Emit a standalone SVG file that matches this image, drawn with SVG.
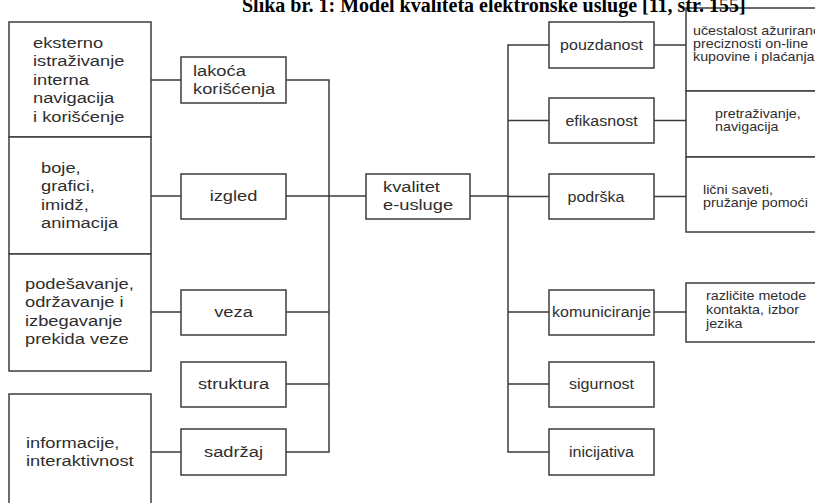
<svg xmlns="http://www.w3.org/2000/svg" width="815" height="503" viewBox="0 0 815 503">
<style>
.b{fill:#fff;stroke:#3c3c3c;stroke-width:1.5}
.c{fill:none;stroke:#3c3c3c;stroke-width:1.5}
text{font-family:"Liberation Sans",Arial,sans-serif;fill:#2e2e2e}
.tl{font-size:15.5px}
.tr{font-size:15px}
.tf{font-size:13px}
.m{text-anchor:middle}
.title{font-family:"Liberation Serif","Times New Roman",serif;font-weight:bold;font-size:20px;fill:#000}
</style>
<rect width="815" height="503" fill="#fff"/>
<g id="connectors">
<path class="c" d="M151,80H181M151,196H181M151,312H181M151,452H181"/>
<path class="c" d="M286,80H329V452H286M286,196H329M286,312H329M286,384H329"/>
<path class="c" d="M329,196H366M470,196H508"/>
<path class="c" d="M549,45H508V452H549M508,120.5H549M508,196.5H549M508,312H549M508,384H549"/>
<path class="c" d="M654,45H686M654,120.5H686M654,196.5H686M654,312H686"/>
</g>
<g id="ld1"><rect class="b" x="9" y="22" width="142" height="115"/>
<text class="tl" transform="translate(33,48) scale(1.18,1)"><tspan x="0">eksterno</tspan><tspan x="0" dy="18.5">istraživanje</tspan><tspan x="0" dy="18.5">interna</tspan><tspan x="0" dy="18.5">navigacija</tspan><tspan x="0" dy="18.5">i korišćenje</tspan></text></g>
<g id="ld2"><rect class="b" x="9" y="137" width="142" height="117"/>
<text class="tl" transform="translate(41,173) scale(1.18,1)"><tspan x="0">boje,</tspan><tspan x="0" dy="18.5">grafici,</tspan><tspan x="0" dy="18.5">imidž,</tspan><tspan x="0" dy="18.5">animacija</tspan></text></g>
<g id="ld3"><rect class="b" x="9" y="254" width="142" height="117"/>
<text class="tl" transform="translate(25,289) scale(1.18,1)"><tspan x="0">podešavanje,</tspan><tspan x="0" dy="18.5">održavanje i</tspan><tspan x="0" dy="18.5">izbegavanje</tspan><tspan x="0" dy="18.5">prekida veze</tspan></text></g>
<g id="ld4"><rect class="b" x="9" y="394" width="142" height="125"/>
<text class="tl" transform="translate(26,448) scale(1.18,1)"><tspan x="0">informacije,</tspan><tspan x="0" dy="18.5">interaktivnost</tspan></text></g>
<g id="lakoca"><rect class="b" x="181" y="57" width="105" height="46"/>
<text class="tl" transform="translate(193,76) scale(1.18,1)"><tspan x="0">lakoća</tspan><tspan x="0" dy="18.5">korišćenja</tspan></text></g>
<g id="izgled"><rect class="b" x="181" y="174" width="105" height="45"/>
<text class="tl m" transform="translate(233.5,201) scale(1.18,1)">izgled</text></g>
<g id="veza"><rect class="b" x="181" y="290" width="105" height="45"/>
<text class="tl m" transform="translate(233.5,317) scale(1.18,1)">veza</text></g>
<g id="struktura"><rect class="b" x="181" y="362" width="105" height="45"/>
<text class="tl m" transform="translate(233.5,389) scale(1.18,1)">struktura</text></g>
<g id="sadrzaj"><rect class="b" x="181" y="429" width="105" height="46"/>
<text class="tl m" transform="translate(233.5,457) scale(1.18,1)">sadržaj</text></g>
<g id="kvalitet"><rect class="b" x="366" y="174" width="104" height="45"/>
<text class="tl" transform="translate(383,191.5) scale(1.18,1)"><tspan x="0">kvalitet</tspan><tspan x="0" dy="18.5">e-usluge</tspan></text></g>
<g id="pouzdanost"><rect class="b" x="549" y="22" width="105" height="46"/>
<text class="tr m" transform="translate(601.5,50) scale(1.07,1)">pouzdanost</text></g>
<g id="efikasnost"><rect class="b" x="549" y="98" width="105" height="45"/>
<text class="tr m" transform="translate(601.5,125.5) scale(1.07,1)">efikasnost</text></g>
<g id="podrska"><rect class="b" x="549" y="174" width="105" height="45"/>
<text class="tr m" transform="translate(596,201.5) scale(1.07,1)">podrška</text></g>
<g id="komuniciranje"><rect class="b" x="549" y="290" width="105" height="45"/>
<text class="tr m" transform="translate(601.5,317) scale(1.07,1)">komuniciranje</text></g>
<g id="sigurnost"><rect class="b" x="549" y="362" width="105" height="45"/>
<text class="tr m" transform="translate(601.5,389) scale(1.07,1)">sigurnost</text></g>
<g id="inicijativa"><rect class="b" x="549" y="429" width="105" height="46"/>
<text class="tr m" transform="translate(601.5,457) scale(1.07,1)">inicijativa</text></g>
<g id="rd1"><rect class="b" x="686" y="8" width="140" height="83"/>
<text class="tf" transform="translate(693,34.5) scale(1.1,1)"><tspan x="0">učestalost ažurirano</tspan><tspan x="0" dy="13.5">preciznosti on-line</tspan><tspan x="0" dy="13.5">kupovine i plaćanja</tspan></text></g>
<g id="rd2"><rect class="b" x="686" y="91" width="140" height="66"/>
<text class="tf" transform="translate(715,117.5) scale(1.1,1)"><tspan x="0">pretraživanje,</tspan><tspan x="0" dy="14">navigacija</tspan></text></g>
<g id="rd3"><rect class="b" x="686" y="157" width="140" height="75"/>
<text class="tf" transform="translate(703,193.5) scale(1.1,1)"><tspan x="0">lični saveti,</tspan><tspan x="0" dy="14">pružanje pomoći</tspan></text></g>
<g id="rd4"><rect class="b" x="686" y="283" width="140" height="59"/>
<text class="tf" transform="translate(706,300) scale(1.1,1)"><tspan x="0">različite metode</tspan><tspan x="0" dy="14">kontakta, izbor</tspan><tspan x="0" dy="14">jezika</tspan></text></g>
<text class="title" x="242" y="12">Slika br. 1: Model kvaliteta elektronske usluge [11, str. 155]</text>
</svg>
